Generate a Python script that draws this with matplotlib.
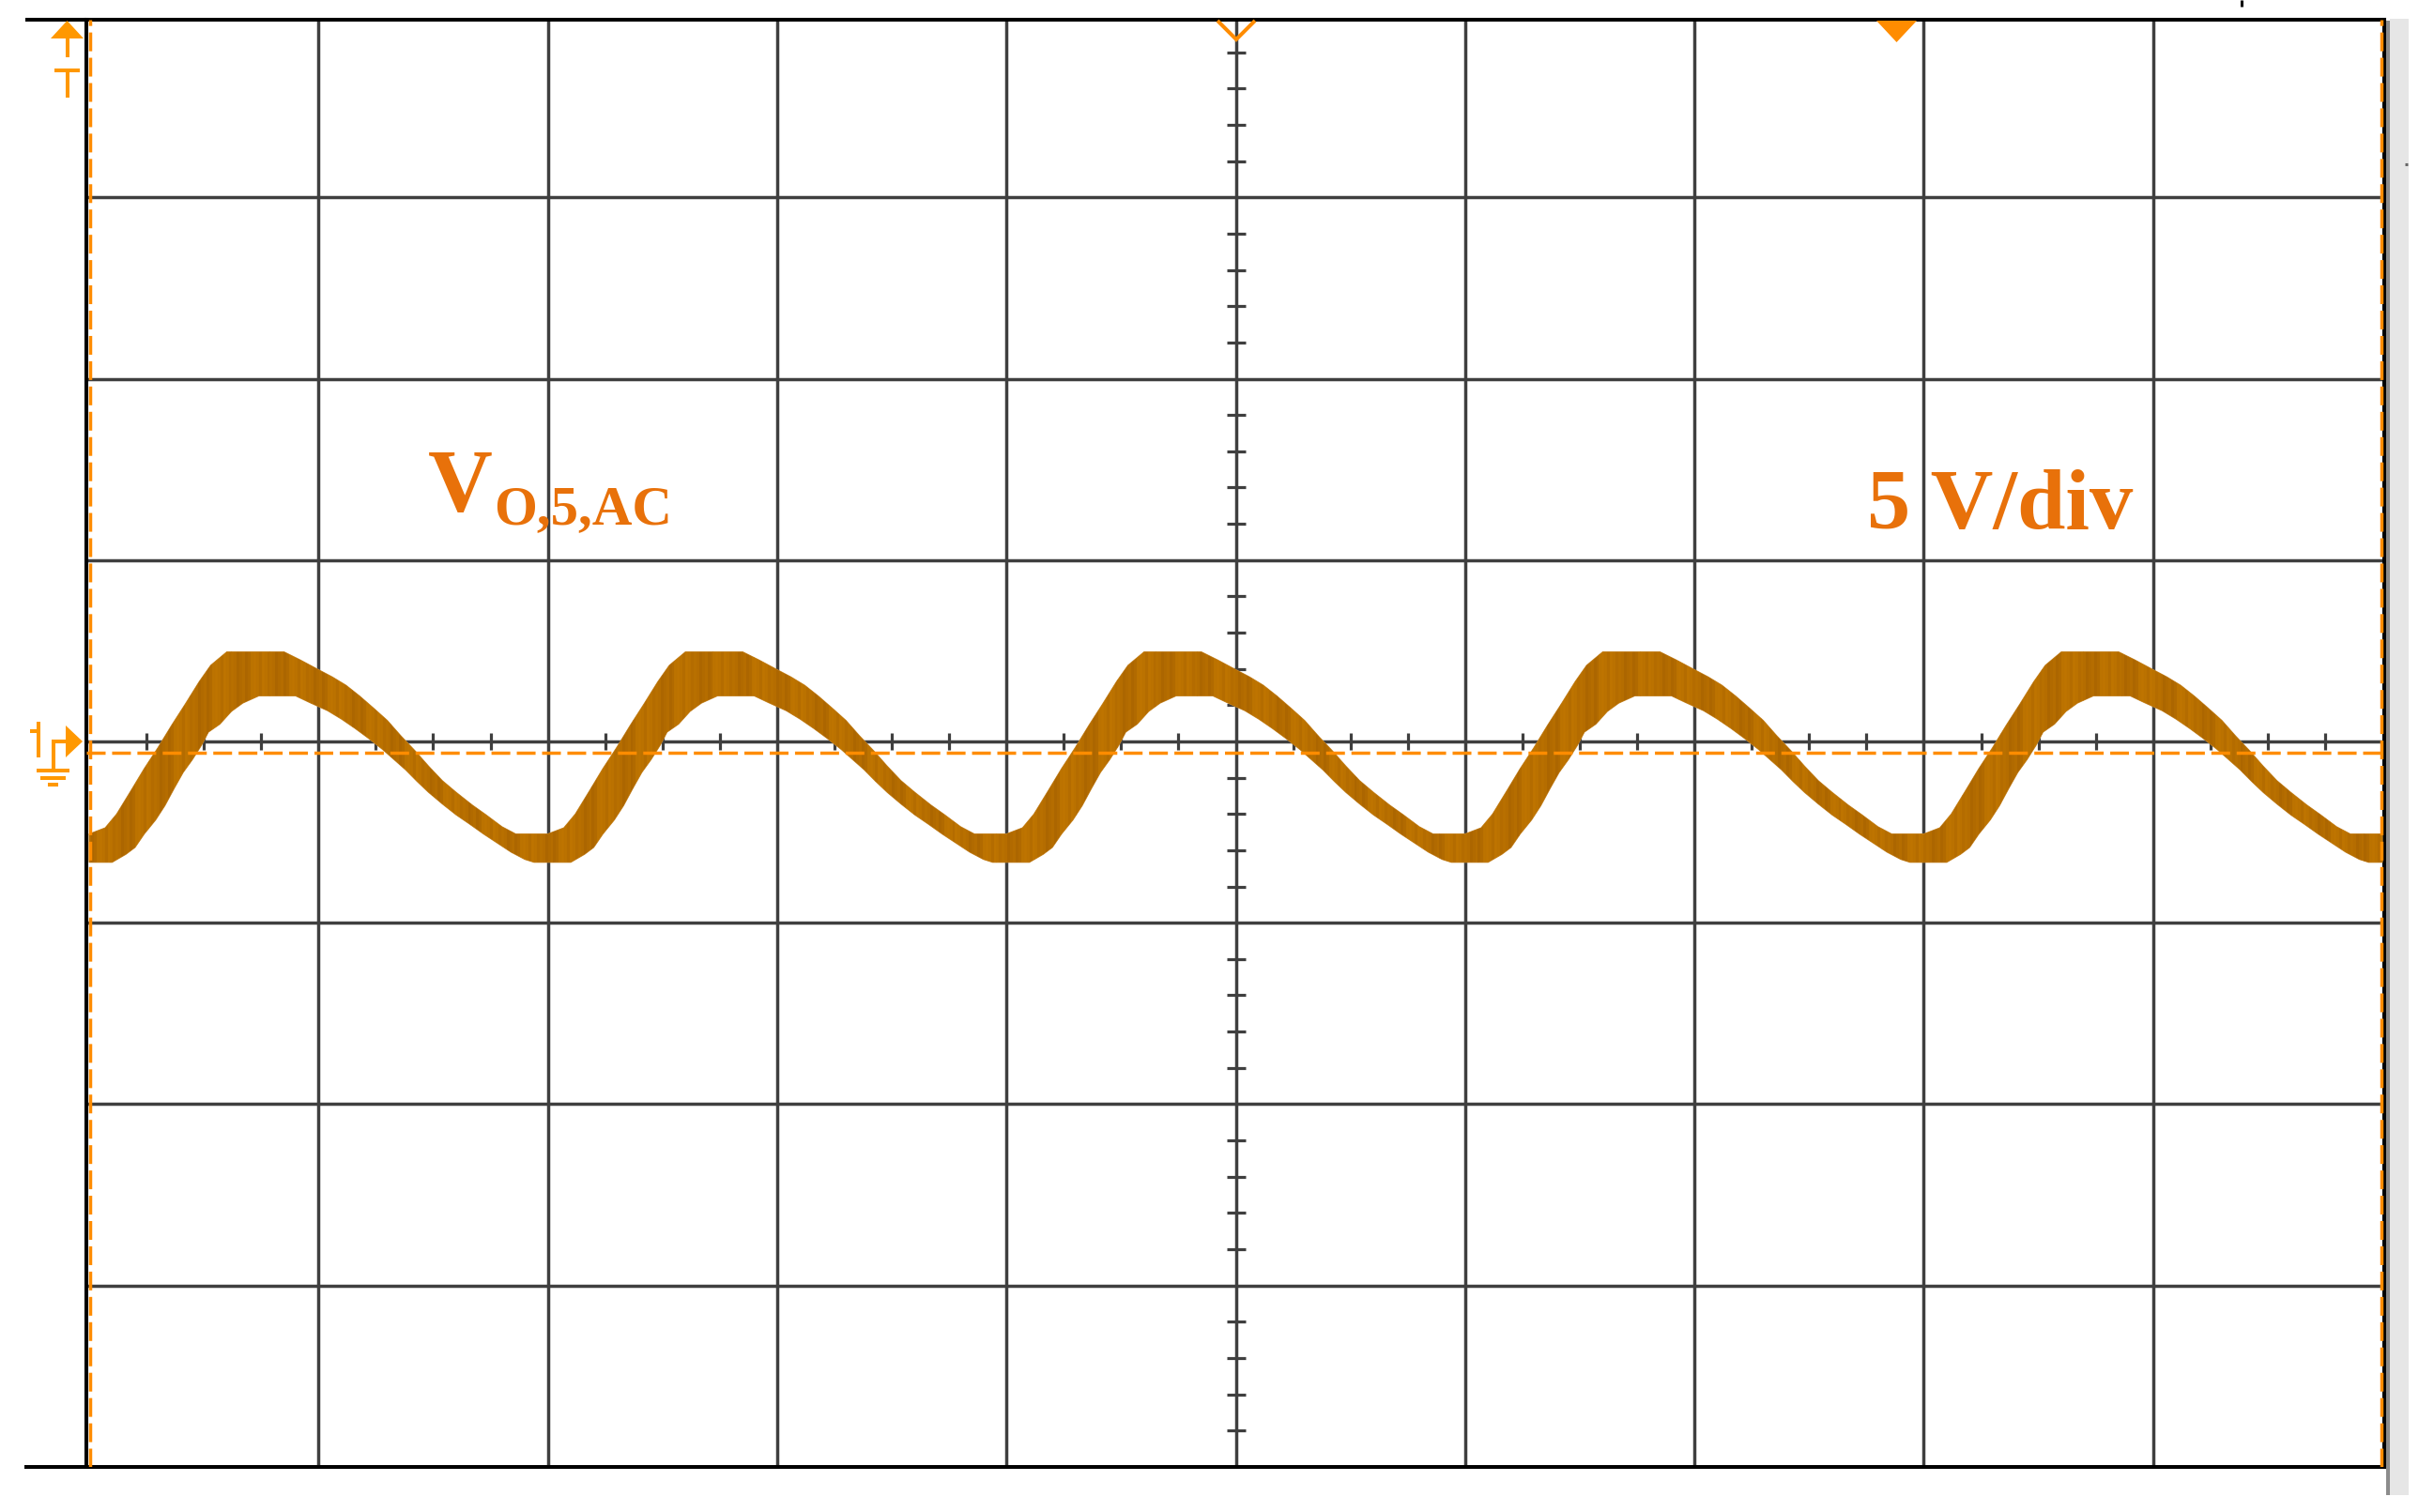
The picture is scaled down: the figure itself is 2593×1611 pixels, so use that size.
import matplotlib
matplotlib.use("Agg")
import matplotlib.pyplot as plt
from matplotlib.lines import Line2D
from matplotlib.patches import Polygon, Rectangle

# ---------------- data (x in divisions, v in volts relative to ground) -------------
upper_x = [
    0.00, 0.07, 0.12, 0.18, 0.24, 0.30, 0.36, 0.42, 0.48, 0.53, 0.60, 0.85, 0.92, 1.00,
    1.06, 1.12, 1.18, 1.24, 1.30, 1.36, 1.42, 1.48, 1.54, 1.60, 1.67, 1.73, 1.80, 1.86,
    2.00, 2.07, 2.12, 2.18, 2.24, 2.30, 2.36, 2.42, 2.48, 2.53, 2.60, 2.85, 2.92, 3.00,
    3.06, 3.12, 3.18, 3.24, 3.30, 3.36, 3.42, 3.48, 3.54, 3.60, 3.67, 3.73, 3.80, 3.86,
    4.00, 4.07, 4.12, 4.18, 4.24, 4.30, 4.36, 4.42, 4.48, 4.53, 4.60, 4.85, 4.92, 5.00,
    5.06, 5.12, 5.18, 5.24, 5.30, 5.36, 5.42, 5.48, 5.54, 5.60, 5.67, 5.73, 5.80, 5.86,
    6.00, 6.07, 6.12, 6.18, 6.24, 6.30, 6.36, 6.42, 6.48, 6.53, 6.60, 6.85, 6.92, 7.00,
    7.06, 7.12, 7.18, 7.24, 7.30, 7.36, 7.42, 7.48, 7.54, 7.60, 7.67, 7.73, 7.80, 7.86,
    8.00, 8.07, 8.12, 8.18, 8.24, 8.30, 8.36, 8.42, 8.48, 8.53, 8.60, 8.85, 8.92, 9.00,
    9.06, 9.12, 9.18, 9.24, 9.30, 9.36, 9.42, 9.48, 9.54, 9.60, 9.67, 9.73, 9.80, 9.86,
    10.00,
]
upper_v = [
    -2.25, -2.08, -1.70, -1.08, -0.45, 0.13, 0.75, 1.34, 1.95, 2.40, 2.77, 2.77, 2.55, 2.28,
    2.08, 1.85, 1.55, 1.22, 0.88, 0.45, 0.05, -0.38, -0.78, -1.10, -1.45, -1.72, -2.05, -2.25,
    -2.25, -2.08, -1.70, -1.08, -0.45, 0.13, 0.75, 1.34, 1.95, 2.40, 2.77, 2.77, 2.55, 2.28,
    2.08, 1.85, 1.55, 1.22, 0.88, 0.45, 0.05, -0.38, -0.78, -1.10, -1.45, -1.72, -2.05, -2.25,
    -2.25, -2.08, -1.70, -1.08, -0.45, 0.13, 0.75, 1.34, 1.95, 2.40, 2.77, 2.77, 2.55, 2.28,
    2.08, 1.85, 1.55, 1.22, 0.88, 0.45, 0.05, -0.38, -0.78, -1.10, -1.45, -1.72, -2.05, -2.25,
    -2.25, -2.08, -1.70, -1.08, -0.45, 0.13, 0.75, 1.34, 1.95, 2.40, 2.77, 2.77, 2.55, 2.28,
    2.08, 1.85, 1.55, 1.22, 0.88, 0.45, 0.05, -0.38, -0.78, -1.10, -1.45, -1.72, -2.05, -2.25,
    -2.25, -2.08, -1.70, -1.08, -0.45, 0.13, 0.75, 1.34, 1.95, 2.40, 2.77, 2.77, 2.55, 2.28,
    2.08, 1.85, 1.55, 1.22, 0.88, 0.45, 0.05, -0.38, -0.78, -1.10, -1.45, -1.72, -2.05, -2.25,
    -2.25,
]
lower_x = [
    0.00, 0.10, 0.16, 0.20, 0.24, 0.29, 0.33, 0.37, 0.41, 0.45, 0.49, 0.52, 0.57, 0.62, 0.67, 0.74,
    0.90, 0.96, 1.04, 1.10, 1.16, 1.22, 1.28, 1.33, 1.38, 1.43, 1.48, 1.54, 1.60, 1.66, 1.72, 1.78,
    1.84, 1.90, 1.94,
    2.00, 2.10, 2.16, 2.20, 2.24, 2.29, 2.33, 2.37, 2.41, 2.45, 2.49, 2.52, 2.57, 2.62, 2.67, 2.74,
    2.90, 2.96, 3.04, 3.10, 3.16, 3.22, 3.28, 3.33, 3.38, 3.43, 3.48, 3.54, 3.60, 3.66, 3.72, 3.78,
    3.84, 3.90, 3.94,
    4.00, 4.10, 4.16, 4.20, 4.24, 4.29, 4.33, 4.37, 4.41, 4.45, 4.49, 4.52, 4.57, 4.62, 4.67, 4.74,
    4.90, 4.96, 5.04, 5.10, 5.16, 5.22, 5.28, 5.33, 5.38, 5.43, 5.48, 5.54, 5.60, 5.66, 5.72, 5.78,
    5.84, 5.90, 5.94,
    6.00, 6.10, 6.16, 6.20, 6.24, 6.29, 6.33, 6.37, 6.41, 6.45, 6.49, 6.52, 6.57, 6.62, 6.67, 6.74,
    6.90, 6.96, 7.04, 7.10, 7.16, 7.22, 7.28, 7.33, 7.38, 7.43, 7.48, 7.54, 7.60, 7.66, 7.72, 7.78,
    7.84, 7.90, 7.94,
    8.00, 8.10, 8.16, 8.20, 8.24, 8.29, 8.33, 8.37, 8.41, 8.45, 8.49, 8.52, 8.57, 8.62, 8.67, 8.74,
    8.90, 8.96, 9.04, 9.10, 9.16, 9.22, 9.28, 9.33, 9.38, 9.43, 9.48, 9.54, 9.60, 9.66, 9.72, 9.78,
    9.84, 9.90, 9.94,
    10.00,
]
lower_v = [
    -3.03, -3.03, -2.81, -2.62, -2.25, -1.86, -1.47, -1.00, -0.55, -0.20, 0.20, 0.56, 0.78, 1.13, 1.36, 1.56,
    1.56, 1.38, 1.15, 0.92, 0.66, 0.38, 0.08, -0.20, -0.48, -0.80, -1.10, -1.42, -1.72, -1.98, -2.25, -2.50,
    -2.75, -2.95, -3.03,
    -3.03, -3.03, -2.81, -2.62, -2.25, -1.86, -1.47, -1.00, -0.55, -0.20, 0.20, 0.56, 0.78, 1.13, 1.36, 1.56,
    1.56, 1.38, 1.15, 0.92, 0.66, 0.38, 0.08, -0.20, -0.48, -0.80, -1.10, -1.42, -1.72, -1.98, -2.25, -2.50,
    -2.75, -2.95, -3.03,
    -3.03, -3.03, -2.81, -2.62, -2.25, -1.86, -1.47, -1.00, -0.55, -0.20, 0.20, 0.56, 0.78, 1.13, 1.36, 1.56,
    1.56, 1.38, 1.15, 0.92, 0.66, 0.38, 0.08, -0.20, -0.48, -0.80, -1.10, -1.42, -1.72, -1.98, -2.25, -2.50,
    -2.75, -2.95, -3.03,
    -3.03, -3.03, -2.81, -2.62, -2.25, -1.86, -1.47, -1.00, -0.55, -0.20, 0.20, 0.56, 0.78, 1.13, 1.36, 1.56,
    1.56, 1.38, 1.15, 0.92, 0.66, 0.38, 0.08, -0.20, -0.48, -0.80, -1.10, -1.42, -1.72, -1.98, -2.25, -2.50,
    -2.75, -2.95, -3.03,
    -3.03, -3.03, -2.81, -2.62, -2.25, -1.86, -1.47, -1.00, -0.55, -0.20, 0.20, 0.56, 0.78, 1.13, 1.36, 1.56,
    1.56, 1.38, 1.15, 0.92, 0.66, 0.38, 0.08, -0.20, -0.48, -0.80, -1.10, -1.42, -1.72, -1.98, -2.25, -2.50,
    -2.75, -2.95, -3.03,
    -3.03,
]
label_signal = ("V", "O,5,AC")
label_scale = "5 V/div"
volts_per_div = 5.0
n_hdiv = 10
n_vdiv = 8

# ---------------- styling ----------------
W, H, DPI = 2593, 1611, 100
GRID_C = "#3f3f3f"
WAVE_C = "#b86f00"
WAVE_SHADES = ["#b56d00", "#bb7200", "#b16a00", "#b87000", "#be7400", "#ac6600",
               "#b46c00", "#bc7300"]
DASH_C = "#ff8c00"
MARK_C = "#ff9800"
TEXT_C = "#e8710a"

fig = plt.figure(figsize=(W / DPI, H / DPI), dpi=DPI)
fig.patch.set_facecolor("white")


def fx(x):
    return x / W


def fy(y):
    return 1 - y / H


AX_L, AX_R, AX_T, AX_B = 91.5, 2540.0, 20.7, 1563.3
ax = fig.add_axes([fx(AX_L), fy(AX_B), (AX_R - AX_L) / W, (AX_B - AX_T) / H])
ax.set_xlim(-0.0143, 10.008)
ax.set_ylim(-19.71, 20.21)
ax.set_xticks([])
ax.set_yticks([])
for s in ax.spines.values():
    s.set_color("black")
    s.set_linewidth(2.9)

center_v = 0.303  # screen centre relative to ground marker (V)

# grid
for i in range(1, n_hdiv):
    ax.axvline(i, color=GRID_C, lw=2.5, zorder=1)
for k in range(-(n_vdiv // 2) + 1, n_vdiv // 2):
    ax.axhline(center_v + k * volts_per_div, color=GRID_C, lw=2.5, zorder=1)

# minor ticks on centre axes
xt = [i * 0.25 for i in range(1, 40) if i % 4 != 0]
ax.plot(xt, [center_v] * len(xt), ls="none", marker="|", ms=13.5, mew=2.3,
        color=GRID_C, zorder=1.5)
yt = [center_v + k * 1.0 for k in range(-19, 20) if k % 5 != 0]
ax.plot([5] * len(yt), yt, ls="none", marker="_", ms=14, mew=2.3,
        color=GRID_C, zorder=1.5)

# waveform band
poly_x = upper_x + lower_x[::-1]
poly_v = upper_v + lower_v[::-1]
band = ax.fill(poly_x, poly_v, color=WAVE_C, lw=0.8, ec="#c98a30", zorder=3)[0]

# persistence-style vertical striping inside the band (texture only)
stripe_x = [i * 0.012 for i in range(0, 835)]
stripe_c = [WAVE_SHADES[(i * 5 + i // 7) % len(WAVE_SHADES)] for i in range(len(stripe_x))]
stripes = ax.vlines(stripe_x, -4, 4, colors=stripe_c, lw=2.1, zorder=3.1)
stripes.set_clip_path(band)

# dashed reference lines
hl = ax.axhline(0, color=DASH_C, lw=2.5, zorder=4)
hl.set_dashes((5.76, 2.0))
for xv in (0.004, 9.994):
    vl = ax.axvline(xv, color=DASH_C, lw=2.5, zorder=4)
    vl.set_dashes((5.76, 2.0))


# ---------------- figure-level decorations (pixel positions) ----------------
def fline(xs, ys, color, lw, z=5):
    fig.add_artist(Line2D([fx(x) for x in xs], [fy(y) for y in ys],
                          transform=fig.transFigure, color=color, lw=lw,
                          solid_capstyle="butt", solid_joinstyle="miter", zorder=z))


def fpoly(pts, color, z=5):
    fig.add_artist(Polygon([(fx(x), fy(y)) for x, y in pts], closed=True,
                           transform=fig.transFigure, fc=color, ec="none", zorder=z))


# frame extensions to the left
fline([27, 92], [20.7, 20.7], "black", 2.9)
fline([26, 92], [1563.3, 1563.3], "black", 2.9)

# top-left trigger marker (arrow + T)
fpoly([(54, 41), (89, 41), (71.5, 22)], MARK_C)
fline([72, 72], [41, 61], MARK_C, 2.9)
fline([58, 85], [75, 75], MARK_C, 2.9)
fline([72, 72], [75, 104], MARK_C, 2.9)

# channel 1 ground marker
fline([41.3, 41.3], [769, 807], MARK_C, 2.9)
fline([32, 41], [778.5, 778.5], MARK_C, 2.9)
fline([57, 57, 72], [821, 790, 790], MARK_C, 2.9)
fpoly([(70, 773), (70, 807), (88, 790)], MARK_C)
fline([39, 74], [821, 821], MARK_C, 2.9)
fline([43, 70], [828.5, 828.5], MARK_C, 2.9)
fline([51, 62], [836, 836], MARK_C, 2.9)

# top markers
fline([1297, 1317, 1337], [22, 42, 22], DASH_C, 2.9)
fpoly([(1999, 22), (2042, 22), (2020.5, 45)], DASH_C)
fline([2387.5, 2387.5], [0, 7], "black", 2.2)

# right-hand scroll bar
fig.add_artist(Rectangle((fx(2546), fy(1593)), (2566 - 2546) / W, (1593 - 20) / H,
                         transform=fig.transFigure, fc="#e6e6e6", ec="none", zorder=0.5))
fig.add_artist(Rectangle((fx(2541.5), fy(1593)), (2546 - 2541.5) / W, (1593 - 22) / H,
                         transform=fig.transFigure, fc="#8c8c8c", ec="none", zorder=0.6))
fline([2562, 2565], [175, 175], "#666666", 2.2)

# ---------------- labels ----------------
serif = ["Liberation Serif", "DejaVu Serif"]
fig.text(fx(456), fy(545), label_signal[0], fontsize=68.5, family=serif,
         weight="bold", color=TEXT_C, ha="left", va="baseline")
fig.text(fx(526), fy(558), label_signal[1], fontsize=42.5, family=serif,
         weight="bold", color=TEXT_C, ha="left", va="baseline")
fig.text(fx(1989), fy(563), label_scale, fontsize=66.5, family=serif,
         weight="bold", color=TEXT_C, ha="left", va="baseline")

fig.savefig("out.png", dpi=DPI, facecolor="white")
